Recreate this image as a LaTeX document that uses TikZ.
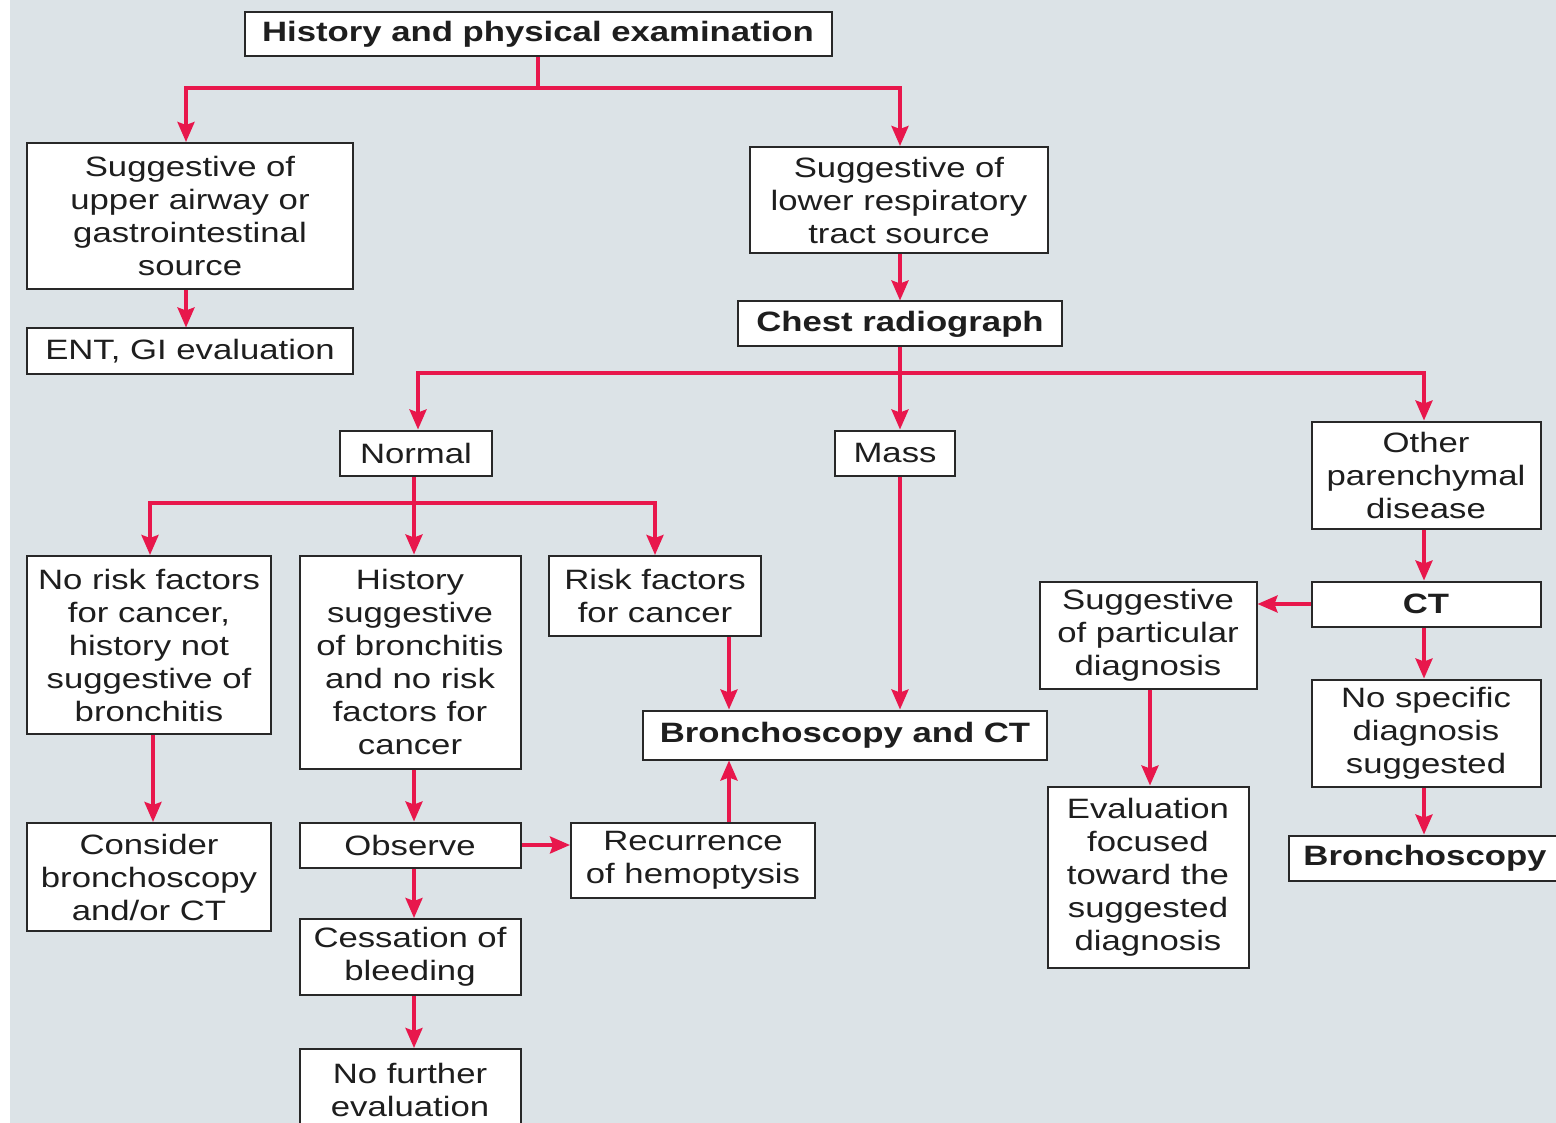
\documentclass[tikz,border=0pt]{standalone}
\usepackage{fontspec}
\setmainfont{Liberation Sans}[FakeStretch=1.24]
\usetikzlibrary{arrows.meta}
\definecolor{bgc}{RGB}{220,227,231}
\definecolor{redc}{RGB}{232,23,76}
\definecolor{boxc}{RGB}{40,40,40}
\definecolor{txtc}{RGB}{30,30,30}
\newcommand{\fs}{\fontsize{28}{33}\selectfont}
\tikzset{
  box/.style={draw=boxc, line width=2pt, fill=white, inner sep=0pt, align=center, font=\fs, text=txtc},
  bbox/.style={box, font=\fs\bfseries},
  arr/.style={draw=redc, line width=3.5pt, -{Stealth[length=20pt,width=17pt,inset=3pt]}},
  ln/.style={draw=redc, line width=3.5pt}
}
\begin{document}
\begin{tikzpicture}[x=1pt,y=-1pt]
\useasboundingbox (0,0) rectangle (1556,1123);
\fill[bgc] (10,0) rectangle (1556,1123);

\node[bbox, minimum width=587pt, minimum height=44pt] (hist) at (538,34) {History and physical examination};
\node[box, minimum width=326pt, minimum height=146pt] (upper) at (190,216) {Suggestive of\\upper airway or\\gastrointestinal\\source};
\node[box, minimum width=326pt, minimum height=45pt] (ent) at (190,351) {ENT, GI evaluation};
\node[box, minimum width=298pt, minimum height=106pt] (lower) at (899,200) {Suggestive of\\lower respiratory\\tract source};
\node[bbox, minimum width=324pt, minimum height=45pt] (chest) at (900,324) {Chest radiograph};
\node[box, minimum width=152pt, minimum height=45pt] (normal) at (416,453) {Normal};
\node[box, minimum width=120pt, minimum height=45pt] (mass) at (895,453) {Mass};
\node[box, minimum width=229pt, minimum height=107pt] (other) at (1426,475) {Other\\parenchymal\\disease};
\node[box, minimum width=244pt, minimum height=178pt] (norisk) at (149,645) {No risk factors\\for cancer,\\history not\\suggestive of\\bronchitis};
\node[box, minimum width=221pt, minimum height=213pt] (histbr) at (410,662) {History\\suggestive\\of bronchitis\\and no risk\\factors for\\cancer};
\node[box, minimum width=212pt, minimum height=80pt] (riskf) at (655,596) {Risk factors\\for cancer};
\node[bbox, minimum width=404pt, minimum height=49pt] (bronct) at (845,735) {Bronchoscopy and CT};
\node[box, minimum width=217pt, minimum height=107pt] (suggpart) at (1148,635) {Suggestive\\of particular\\diagnosis};
\node[bbox, minimum width=229pt, minimum height=45pt] (ct) at (1426,604) {CT};
\node[box, minimum width=229pt, minimum height=107pt] (nospec) at (1426,733) {No specific\\diagnosis\\suggested};
\node[bbox, minimum width=273pt, minimum height=45pt] (bronch) at (1425,858) {Bronchoscopy};
\node[box, minimum width=244pt, minimum height=108pt] (consider) at (149,877) {Consider\\bronchoscopy\\and/or CT};
\node[box, minimum width=221pt, minimum height=45pt] (observe) at (410,845) {Observe};
\node[box, minimum width=244pt, minimum height=75pt] (recur) at (693,860) {Recurrence\\of hemoptysis};
\node[box, minimum width=221pt, minimum height=76pt] (cess) at (410,957) {Cessation of\\bleeding};
\node[box, minimum width=221pt, minimum height=82pt] (nofur) at (410,1090) {No further\\evaluation};
\node[box, minimum width=201pt, minimum height=181pt] (evalf) at (1148,877) {Evaluation\\focused\\toward the\\suggested\\diagnosis};

% coordinates for connector x positions
\coordinate (x186) at (186,0);
\coordinate (x900) at (900,0);
\coordinate (x418) at (418,0);
\coordinate (x1424) at (1424,0);
\coordinate (x150) at (150,0);
\coordinate (x153) at (153,0);
\coordinate (x414) at (414,0);
\coordinate (x655) at (655,0);
\coordinate (x729) at (729,0);
\coordinate (x1150) at (1150,0);
\coordinate (y88) at (0,88);
\coordinate (y373) at (0,373);
\coordinate (y503) at (0,503);
\coordinate (y845) at (0,845);
\coordinate (y604) at (0,604);

% top level
\draw[ln] (hist.south) -- (hist.south |- y88);
\draw[arr] (hist.south |- y88) -- (x186 |- y88) -- (upper.north -| x186);
\draw[arr] (hist.south |- y88) -- (x900 |- y88) -- (lower.north -| x900);
\draw[arr] (upper.south -| x186) -- (ent.north -| x186);
\draw[arr] (lower.south -| x900) -- (chest.north -| x900);

% chest radiograph branches
\draw[arr] (chest.south -| x900) -- (mass.north -| x900);
\draw[arr] (x900 |- y373) -- (x418 |- y373) -- (normal.north -| x418);
\draw[arr] (x900 |- y373) -- (x1424 |- y373) -- (other.north -| x1424);

% normal branches
\draw[ln] (normal.south -| x414) -- (x414 |- y503);
\draw[arr] (x414 |- y503) -- (x150 |- y503) -- (norisk.north -| x150);
\draw[arr] (x414 |- y503) -- (histbr.north -| x414);
\draw[arr] (x414 |- y503) -- (x655 |- y503) -- (riskf.north -| x655);

\draw[arr] (norisk.south -| x153) -- (consider.north -| x153);
\draw[arr] (histbr.south -| x414) -- (observe.north -| x414);
\draw[arr] (observe.south -| x414) -- (cess.north -| x414);
\draw[arr] (cess.south -| x414) -- (nofur.north -| x414);
\draw[arr] (observe.east |- y845) -- (recur.west |- y845);
\draw[arr] (recur.north -| x729) -- (bronct.south -| x729);
\draw[arr] (riskf.south -| x729) -- (bronct.north -| x729);
\draw[arr] (mass.south -| x900) -- (bronct.north -| x900);

% other parenchymal disease
\draw[arr] (other.south -| x1424) -- (ct.north -| x1424);
\draw[arr] (ct.west |- y604) -- (suggpart.east |- y604);
\draw[arr] (ct.south -| x1424) -- (nospec.north -| x1424);
\draw[arr] (nospec.south -| x1424) -- (bronch.north -| x1424);
\draw[arr] (suggpart.south -| x1150) -- (evalf.north -| x1150);
\end{tikzpicture}
\end{document}
